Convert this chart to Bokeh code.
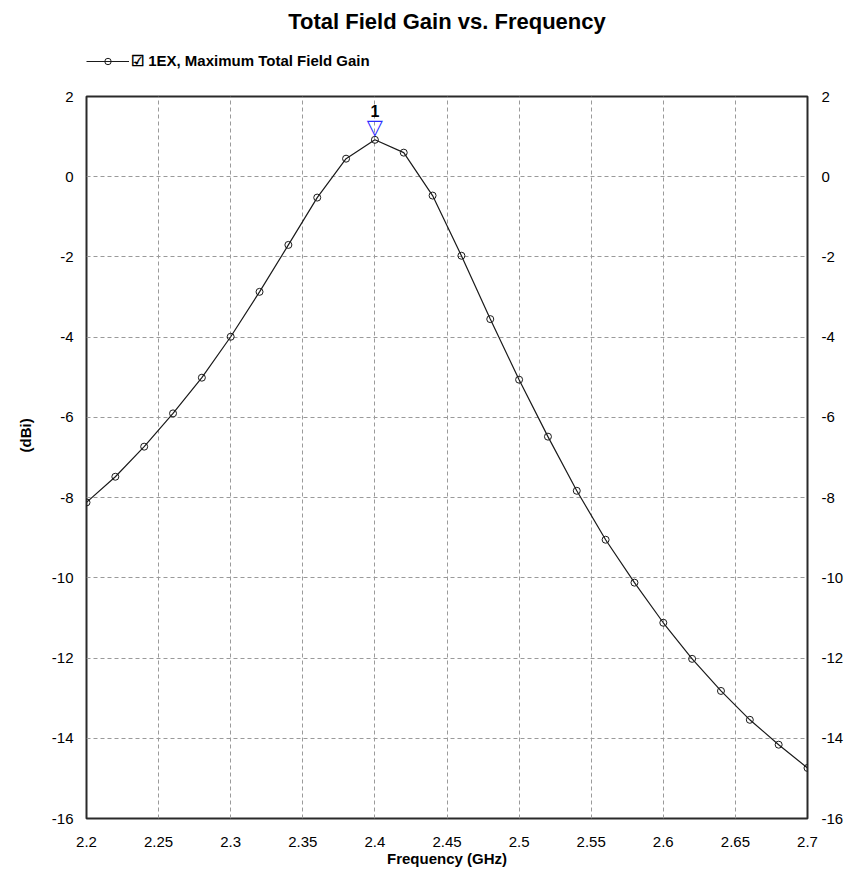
import numpy as np
from bokeh.plotting import figure
from bokeh.layouts import column
from bokeh.models import (Range1d, LinearAxis, FixedTicker, Legend,
                          LegendItem, ColumnDataSource, Title)
from bokeh.core.properties import value
from bokeh.embed import file_html
from bokeh.resources import INLINE

# ---------------- data ----------------
freq_ghz = [2.20, 2.22, 2.24, 2.26, 2.28, 2.30, 2.32, 2.34, 2.36, 2.38,
            2.40, 2.42, 2.44, 2.46, 2.48, 2.50, 2.52, 2.54, 2.56, 2.58,
            2.60, 2.62, 2.64, 2.66, 2.68, 2.70]
gain_dbi = [-8.12, -7.48, -6.73, -5.90, -5.01, -3.99, -2.87, -1.70, -0.52, 0.45,
            0.92, 0.60, -0.47, -1.97, -3.55, -5.06, -6.48, -7.83, -9.05, -10.12,
            -11.12, -12.02, -12.82, -13.54, -14.16, -14.74]

x_ticks = [2.2, 2.25, 2.3, 2.35, 2.4, 2.45, 2.5, 2.55, 2.6, 2.65, 2.7]
x_tick_labels = ["2.2", "2.25", "2.3", "2.35", "2.4", "2.45", "2.5", "2.55",
                 "2.6", "2.65", "2.7"]
y_ticks = [2, 0, -2, -4, -6, -8, -10, -12, -14, -16]
y_tick_labels = ["2", "0", "-2", "-4", "-6", "-8", "-10", "-12", "-14", "-16"]

title_text = "Total Field Gain vs. Frequency"
series_name = "\u2611 1EX, Maximum Total Field Gain"
x_title = "Frequency (GHz)"
y_title = "(dBi)"
marker_name = "1"

FONT = "Liberation Sans"
LINE_COLOR = "#1a1a1a"

# ---------------- header (title + legend) ----------------
header = figure(width=846, height=86, output_backend="svg", toolbar_location=None,
                x_range=Range1d(0, 1), y_range=Range1d(0, 1),
                x_axis_location=None, y_axis_location=None,
                min_border_left=86, min_border_right=39,
                min_border_top=0, min_border_bottom=0,
                title=title_text)
header.outline_line_color = None
header.background_fill_color = "white"
header.border_fill_color = "white"
header.grid.grid_line_color = None
header.title.align = "center"
header.title.vertical_align = "bottom"
header.title.text_font = FONT
header.title.text_font_style = "bold"
header.title.text_font_size = "22px"
header.title.text_color = "black"
header.title.standoff = 12

# legend sample renderers: same series, lying outside this header's view,
# only used so that the legend can draw its line + marker sample
leg_line = header.line(freq_ghz, gain_dbi, line_color=LINE_COLOR, line_width=1.2)
leg_pts = header.scatter(freq_ghz, gain_dbi, marker="circle", size=7,
                         line_color=LINE_COLOR, line_width=1, fill_color=None)
legend = Legend(items=[LegendItem(label=series_name, renderers=[leg_line, leg_pts])],
                location=(0, 16), orientation="horizontal",
                glyph_width=43, glyph_height=16, label_height=16,
                label_standoff=2, padding=0, margin=0, spacing=0,
                border_line_color=None, background_fill_alpha=0,
                label_text_font=FONT, label_text_font_style="bold",
                label_text_font_size="15px", label_text_color="black")
header.add_layout(legend)

# ---------------- main plot ----------------
p = figure(width=846, height=786, output_backend="svg", toolbar_location=None,
           x_range=Range1d(min(freq_ghz), max(freq_ghz)),
           y_range=Range1d(min(y_ticks), max(y_ticks)),
           min_border_left=86, min_border_right=39,
           min_border_top=10, min_border_bottom=54)

p.background_fill_color = "white"
p.border_fill_color = "white"
p.outline_line_color = "#2a2a2a"
p.outline_line_width = 2

# axes
p.xaxis.ticker = FixedTicker(ticks=x_ticks)
p.xaxis.major_label_overrides = {t: l for t, l in zip(x_ticks, x_tick_labels)}
p.yaxis.ticker = FixedTicker(ticks=y_ticks)
p.yaxis.major_label_overrides = {t: l for t, l in zip(y_ticks, y_tick_labels)}
p.xaxis.axis_label = x_title
p.xaxis.axis_label_text_font = FONT
p.xaxis.axis_label_text_font_style = "bold"
p.xaxis.axis_label_text_font_size = "15px"
p.xaxis.axis_label_text_color = "black"
p.xaxis.axis_label_standoff = 0

right_axis = LinearAxis(ticker=FixedTicker(ticks=y_ticks),
                        major_label_overrides={t: l for t, l in zip(y_ticks, y_tick_labels)})
p.add_layout(right_axis, "right")

for ax in [p.xaxis[0], p.yaxis[0], right_axis]:
    ax.axis_line_color = None
    ax.major_tick_line_color = None
    ax.minor_tick_line_color = None
    ax.major_tick_out = 0
    ax.major_tick_in = 0
    ax.minor_tick_out = 0
    ax.minor_tick_in = 0
    ax.major_label_text_font = FONT
    ax.major_label_text_font_size = "15px"
    ax.major_label_text_color = "black"

p.xaxis[0].major_label_standoff = 18
p.yaxis[0].major_label_standoff = 13
right_axis.major_label_standoff = 14

# y axis title as a side title (sits above centre, as in the reference)
p.add_layout(Title(text=y_title, align="left", offset=366, standoff=29,
                   text_font=FONT, text_font_style="bold",
                   text_font_size="15px", text_color="black"), "left")

# grid
for g in [p.xgrid[0], p.ygrid[0]]:
    g.grid_line_color = "#9a9a9a"
    g.grid_line_dash = "4 3"
    g.grid_line_width = 1

# data marks
p.line(freq_ghz, gain_dbi, line_color=LINE_COLOR, line_width=1.2)
p.scatter(freq_ghz, gain_dbi, marker="circle", size=7,
          line_color=LINE_COLOR, line_width=1, fill_color=None)

# peak marker
i_peak = int(np.argmax(gain_dbi))
peak_src = ColumnDataSource(dict(x=[freq_ghz[i_peak]], y=[gain_dbi[i_peak]],
                                 tri=["\u25bd"], num=[marker_name]))
p.text(x="x", y="y", text="tri", source=peak_src,
       text_font=value("DejaVu Sans"), text_font_size="21px",
       text_color="#2a2aff", text_align="center", text_baseline="bottom",
       y_offset=-1)
p.text(x="x", y="y", text="num", source=peak_src,
       text_font=value(FONT), text_font_style="bold", text_font_size="16px",
       text_color="black", text_align="center", text_baseline="middle",
       y_offset=-29)

layout = column(header, p, spacing=0)
open("out.html", "w").write(file_html(layout, INLINE))
